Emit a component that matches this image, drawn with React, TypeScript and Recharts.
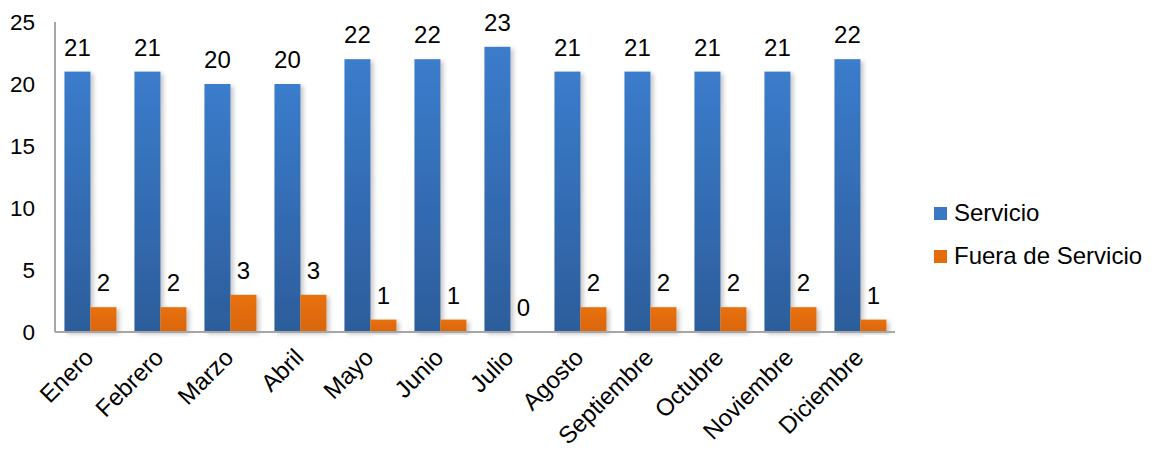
import React from 'react';
import { BarChart, Bar, XAxis, YAxis, LabelList } from 'recharts';

const months = ['Enero', 'Febrero', 'Marzo', 'Abril', 'Mayo', 'Junio', 'Julio', 'Agosto', 'Septiembre', 'Octubre', 'Noviembre', 'Diciembre'];
const servicio = [21, 21, 20, 20, 22, 22, 23, 21, 21, 21, 21, 22];
const fueraDeServicio = [2, 2, 3, 3, 1, 1, 0, 2, 2, 2, 2, 1];
const yTicks = [0, 5, 10, 15, 20, 25];
const seriesNames = ['Servicio', 'Fuera de Servicio'];

const data = months.map((m, i) => ({ month: m, servicio: servicio[i], fuera: fueraDeServicio[i] }));

const FONT = '"Liberation Sans", Arial, Helvetica, sans-serif';
const AXIS_COLOR = '#A6A6A6';

const XTick = (props: any) => {
  const { x, y, payload } = props;
  const tx = x + 5;
  const ty = y + 19;
  return (
    <text x={tx} y={ty} transform={`rotate(-45, ${tx}, ${ty})`} textAnchor="end" fontSize={24} fill="#000" fontFamily={FONT}>
      {payload.value}
    </text>
  );
};

const ShadowRect = (props: any) => {
  const { x, y, width, height, fill } = props;
  if (!height || height <= 0) return <g />;
  return <rect x={x} y={y} width={width} height={height} fill={fill} filter="url(#barShadow)" />;
};

const legendColors = ['#3A78C6', '#E46C0A'];

export default function App() {
  return (
    <div style={{ position: 'relative', width: 1144, height: 442, fontFamily: FONT }}>
      <BarChart
        width={1144}
        height={442}
        data={data}
        margin={{ top: 14, right: 257, bottom: 0, left: 0 }}
        barCategoryGap="13.5%"
        barGap={0}
      >
        <defs>
          <linearGradient id="gBlue" x1="0" y1="0" x2="0" y2="1">
            <stop offset="0" stopColor="#3B7CCC" />
            <stop offset="1" stopColor="#2C5D9B" />
          </linearGradient>
          <linearGradient id="gOrange" x1="0" y1="0" x2="0" y2="1">
            <stop offset="0" stopColor="#E8700C" />
            <stop offset="1" stopColor="#DA6609" />
          </linearGradient>
          <filter id="barShadow" x="-20%" y="-10%" width="160%" height="130%">
            <feDropShadow dx="3" dy="2" stdDeviation="2" floodColor="#000" floodOpacity="0.22" />
          </filter>
        </defs>
        <XAxis
          dataKey="month"
          height={118}
          interval={0}
          axisLine={{ stroke: AXIS_COLOR, strokeWidth: 2 }}
          tickLine={false}
          tick={<XTick />}
        />
        <YAxis
          width={47}
          domain={[0, 25]}
          ticks={yTicks}
          interval={0}
          axisLine={{ stroke: AXIS_COLOR, strokeWidth: 2 }}
          tickLine={false}
          tickSize={6}
          tickMargin={14}
          tick={{ fontSize: 22.5, fill: '#000', fontFamily: FONT }}
        />
        <Bar dataKey="servicio" name={seriesNames[0]} fill="url(#gBlue)" shape={<ShadowRect />} isAnimationActive={false}>
          <LabelList dataKey="servicio" position="top" offset={16} fontSize={24} fill="#000" fontFamily={FONT} />
        </Bar>
        <Bar dataKey="fuera" name={seriesNames[1]} fill="url(#gOrange)" shape={<ShadowRect />} isAnimationActive={false}>
          <LabelList dataKey="fuera" position="top" offset={16} fontSize={24} fill="#000" fontFamily={FONT} />
        </Bar>
      </BarChart>
      <div style={{ position: 'absolute', left: 926, top: 193 }}>
        {seriesNames.map((name, i) => (
          <div key={name} style={{ display: 'flex', alignItems: 'center', height: 24, marginBottom: 19, whiteSpace: 'nowrap' }}>
            <div style={{ width: 13, height: 13, background: legendColors[i] }} />
            <span style={{ marginLeft: 7, fontSize: 24, color: '#000', lineHeight: '24px' }}>{name}</span>
          </div>
        ))}
      </div>
    </div>
  );
}
